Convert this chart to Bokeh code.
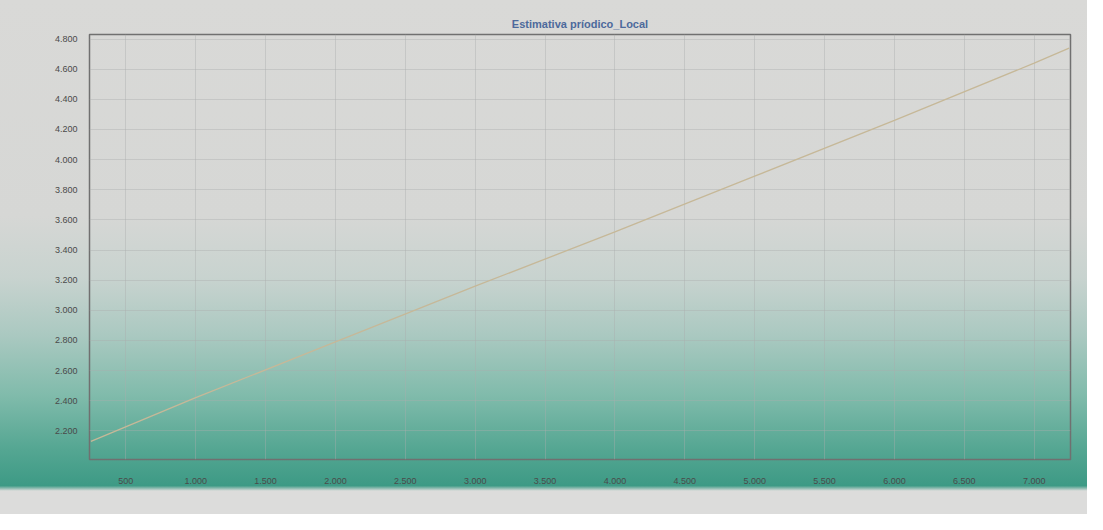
from bokeh.plotting import figure
from bokeh.models import FixedTicker, Range1d
from bokeh.embed import file_html
from bokeh.resources import INLINE

# --- data ---
x_vals = [250, 1000, 2000, 3000, 4000, 5000, 6000, 7000, 7250]
y_vals = [2130, 2420, 2790, 3160, 3520, 3890, 4260, 4640, 4740]

x_ticks = [500, 1000, 1500, 2000, 2500, 3000, 3500, 4000, 4500, 5000, 5500, 6000, 6500, 7000]
y_ticks = [2200, 2400, 2600, 2800, 3000, 3200, 3400, 3600, 3800, 4000, 4200, 4400, 4600, 4800]

title_text = "Estimativa príodico_Local"


def fmt(v):
    return f"{v:,}".replace(",", ".")


p = figure(
    width=1087, height=514,
    output_backend="svg", toolbar_location=None,
    x_range=Range1d(240, 7260), y_range=Range1d(2010, 4830),
    min_border_left=89, min_border_right=17, min_border_top=34, min_border_bottom=55,
    title=title_text,
)
p.styles = {
    "background": "linear-gradient(to bottom, #d9d9d7 0%, #d6d7d5 42%, #c8d3cf 54%, "
                  "#abc9c1 65%, #80bbab 77%, #56a793 87%, #3d9a85 94.5%, #dcdcdb 95.5%, #dcdcdb 100%)"
}
p.background_fill_color = None
p.border_fill_color = None
p.outline_line_color = "#707070"
p.outline_line_width = 1.5

p.title.align = "center"
p.title.text_color = "#4d6a9c"
p.title.text_font = "Liberation Sans"
p.title.text_font_size = "11px"
p.title.text_font_style = "bold"
p.title.offset = 0

p.line(x_vals, y_vals, line_color="#c6b898", line_width=1.3)

p.xaxis.ticker = FixedTicker(ticks=x_ticks)
p.yaxis.ticker = FixedTicker(ticks=y_ticks)
p.xaxis.major_label_overrides = {t: fmt(t) for t in x_ticks}
p.yaxis.major_label_overrides = {t: fmt(t) for t in y_ticks}

for ax in (p.xaxis, p.yaxis):
    ax.axis_line_color = None
    ax.major_tick_line_color = None
    ax.minor_tick_line_color = None
    ax.major_label_text_font = "Liberation Sans"
    ax.major_label_text_font_size = "9px"
    ax.major_label_text_color = "#4a4a4a"
p.xaxis.major_label_standoff = 12
p.yaxis.major_label_standoff = 6

p.xgrid.grid_line_color = "#a9adac"
p.ygrid.grid_line_color = "#a9adac"
p.xgrid.grid_line_alpha = 0.4
p.ygrid.grid_line_alpha = 0.4

open("out.html", "w").write(file_html(p, INLINE))
